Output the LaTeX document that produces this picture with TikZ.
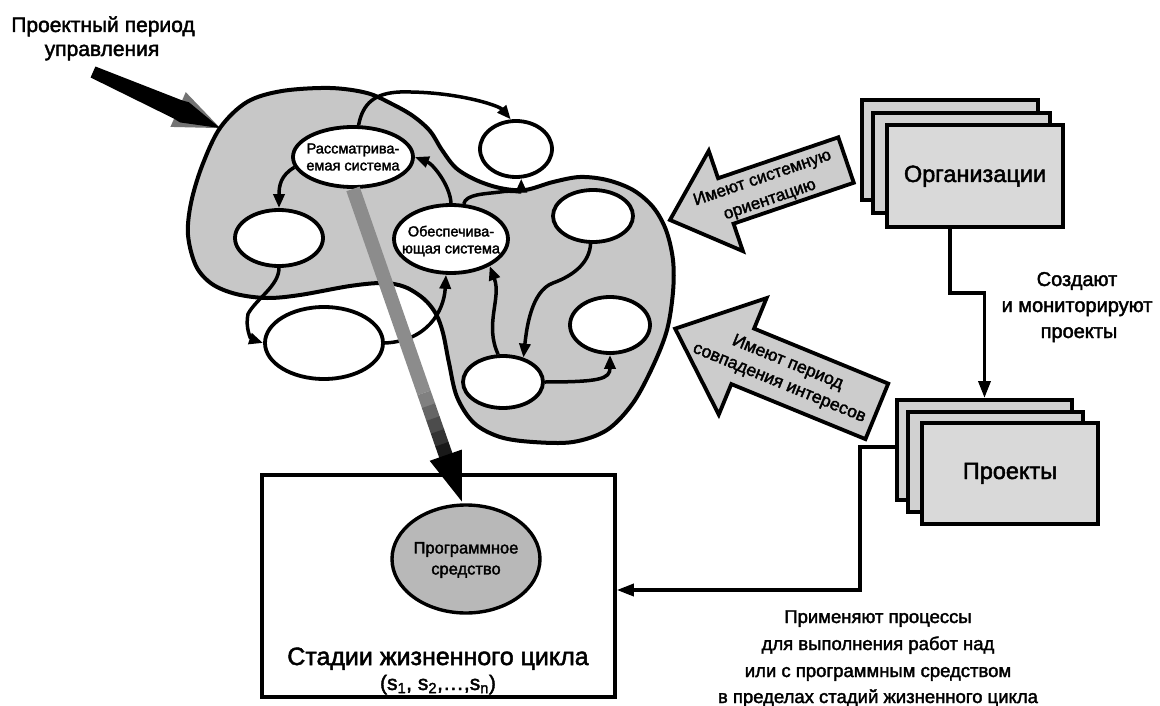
\documentclass[tikz,border=0pt]{standalone}
\usepackage{fontspec}
\setmainfont{Liberation Sans}[FakeBold=2]
\usetikzlibrary{arrows.meta,calc,shapes.geometric}
\begin{document}
\begin{tikzpicture}[x=1pt,y=-1pt,
  conn/.style={line width=3.5pt,-{Triangle[length=14pt,width=11pt]}},
  bigconn/.style={line width=3.5pt,-{Triangle[length=17pt,width=12pt]}},
  oval/.style={ellipse,draw,line width=3.8pt,fill=white,inner sep=0pt},
  small/.style={font=\fontsize{14.5}{17}\selectfont,align=center,inner sep=0pt},
  stackbox/.style={rectangle,draw,line width=4pt,fill=black!18,inner sep=0pt},
  blk/.style={draw,line width=3.8pt,fill=black!20,line join=miter},
  big/.style={font=\fontsize{23.5}{28}\selectfont,inner sep=0pt,anchor=base},
  side/.style={font=\fontsize{20}{24}\selectfont,inner sep=0pt,anchor=base},
  note/.style={font=\fontsize{18.5}{22}\selectfont,inner sep=0pt,anchor=base},
  head/.style={font=\fontsize{21}{24}\selectfont,inner sep=0pt,anchor=base},
  arr/.style={font=\fontsize{17}{23}\selectfont,align=center,inner sep=0pt},
  stage/.style={font=\fontsize{25}{28}\selectfont,inner sep=0pt,anchor=base},
]
\useasboundingbox (0,0) rectangle (1160,706);

% ---------- title and black arrow ----------
\node[head] (t1) at (103,32) {Проектный период};
\node[head] (t2) at (102,56) {управления};
\begin{scope}[shift={(93,72)},rotate=-23.8]
  \fill[black!55] (93,-19) -- (139,0) -- (93,19) -- cycle;
  \fill[black] (0,-6) -- (93,-10) -- (100,-11) -- (139,0) -- (100,11) -- (93,10) -- (0,6) -- cycle;
\end{scope}

% ---------- blob ----------
\filldraw[fill=black!22,line width=4pt] plot[smooth cycle,tension=0.55] coordinates {
(220,128) (247,102) (282,91) (330,88) (367,93) (392,104) (413,116) (430,131)
(442,150) (456,168) (476,180) (500,188) (525,190) (553,182) (580,177) (607,180)
(633,190) (653,207) (666,230) (673,260) (673,292) (667,330) (653,366) (633,403)
(607,430) (573,442) (533,442) (500,437) (474,423) (457,397) (449,363) (443,333)
(436,314) (424,299) (405,287) (383,283) (350,286) (300,295) (267,298) (236,294)
(212,284) (196,266) (188,235) (191,203) (202,166)};

% ---------- ellipses ----------
\node[oval,minimum width=120pt,minimum height=60pt] (A) at (353,157) {};
\node[oval,minimum width=72pt,minimum height=56pt] (B) at (516,149) {};
\node[oval,minimum width=88pt,minimum height=56pt] (C) at (279,238) {};
\node[oval,minimum width=114pt,minimum height=68pt] (D) at (451,239) {};
\node[oval,minimum width=118pt,minimum height=72pt] (E) at (324,343) {};
\node[oval,minimum width=80pt,minimum height=52pt] (F) at (593,216) {};
\node[oval,minimum width=80pt,minimum height=56pt] (G) at (610,325) {};
\node[oval,minimum width=80pt,minimum height=52pt] (H) at (503,382) {};
\node[small] (At) at (353,157) {Рассматрива-\\емая система};
\node[small] (Dt) at (451,241) {Обеспечива-\\ющая система};

% ---------- connectors inside the blob ----------
\coordinate (w1) at (400,92);
\coordinate (w2) at (500,192);
\coordinate (w3) at (248,314);
\coordinate (w4) at (553,283);
\draw[conn] (A.80) .. controls +(4,-22) and +(-25,1) .. (w1) .. controls +(55,-1) and +(-12,-14) .. (B.100);
\draw[conn] (D.70) .. controls +(2,-10) and +(-15,2) .. (w2) .. controls +(12,-2) and +(0,14) .. (B.-80);
\draw[conn] (A.190) .. controls +(-14,8) and +(0,-22) .. (C.north);
\draw[conn] (C.south) .. controls +(0,18) and +(8,-15) .. (w3) .. controls +(-3,14) and +(-12,-4) .. (E.180);
\draw[conn] (E.east) .. controls +(42,-2) and +(-2,37) .. (D.262);
\draw[conn] (D.north) .. controls +(-1,-18) and +(18,7) .. (A.east);
\draw[conn] (F.265) .. controls +(-1,18) and +(22,-8) .. (w4) .. controls +(-22,8) and +(3,-28) .. (H.50);
\draw[conn] (H.east) .. controls +(55,0) and +(0,24) .. (G.south);
\draw[conn] (H.100) .. controls +(-14,-30) and +(12,32) .. (D.-35);

% ---------- bottom box ----------
\node[draw,line width=3.6pt,minimum width=353pt,minimum height=222pt,inner sep=0pt] (box) at (438.5,586) {};
\node[ellipse,draw,line width=3.4pt,fill=black!28,minimum width=148pt,minimum height=108pt,inner sep=0pt] (prog) at (466,559) {};
\node[font=\fontsize{16.5}{21}\selectfont,align=center,inner sep=0pt] (progt) at (466,560) {Программное\\средство};
\node[stage] (s1) at (438,665) {Стадии жизненного цикла};
\node[stage,font=\fontsize{21}{24}\selectfont] (s2) at (438,690) {(s\textsubscript{1}, s\textsubscript{2},…,s\textsubscript{n})};

% ---------- gray band arrow ----------
\begin{scope}[shift={(A.south)},rotate=-70.8]
  \fill[black!45] (0,-7) rectangle (216,7);
  \foreach \i/\c in {0/50,1/60,2/70,3/80,4/90}{
    \fill[black!\c] ({216+\i*13.6},-7) rectangle ({216+(\i+1)*13.6+0.5},7);
  }
  \fill[black] (282,-17) -- (331,0) -- (282,17) -- cycle;
\end{scope}

% ---------- block arrows ----------
\begin{scope}[shift={(758,190)},rotate=18.8]
  \draw[blk] (-93,0) -- (-34,-53) -- (-34,-24) -- (93,-24) -- (93,24) -- (-34,24) -- (-34,53) -- cycle;
  \node[arr,rotate=18.8] (a1) at (8,2) {Имеют системную\\ориентацию};
\end{scope}
\begin{scope}[shift={(776,370)},rotate=-22.3]
  \draw[blk] (-109,0) -- (-36,-63) -- (-36,-30) -- (109,-30) -- (109,30) -- (-36,30) -- (-36,63) -- cycle;
  \node[arr,rotate=-22.3,font=\fontsize{17.5}{22}\selectfont] (a2) at (8,0) {Имеют период\\совпадения интересов};
\end{scope}

% ---------- organisations ----------
\node[stackbox,minimum width=176pt,minimum height=100pt] (orgA) at (950,150) {};
\node[stackbox,minimum width=177pt,minimum height=100pt] (orgB) at (961.5,163) {};
\node[stackbox,fill=black!15,minimum width=176pt,minimum height=102pt] (orgC) at (975,176) {};
\node[big] (orgt) at (975,182) {Организации};

% ---------- projects ----------
\node[stackbox,minimum width=175pt,minimum height=100pt] (projA) at (984.5,450) {};
\node[stackbox,minimum width=175pt,minimum height=100pt] (projB) at (995.5,462) {};
\node[stackbox,fill=black!15,minimum width=176pt,minimum height=101pt] (projC) at (1010,473.5) {};
\node[big] (projt) at (1010,479) {Проекты};

% ---------- org / project connectors ----------
\draw[bigconn] (orgA.center |- orgC.south) -- ++(0,64) -| (projA.north);
\draw[bigconn] ([yshift=3pt]projA.west) -- ++(-35,0) |- ([yshift=-4pt]box.east);

\node[side] (c1) at (1077,286) {Создают};
\node[side] (c2) at (1077,312) {и мониторируют};
\node[side] (c3) at (1079,338) {проекты};

\node[note] (p1) at (878,623) {Применяют процессы};
\node[note] (p2) at (878,650) {для выполнения работ над};
\node[note] (p3) at (878,677) {или с программным средством};
\node[note] (p4) at (878,703) {в пределах стадий жизненного цикла};
\end{tikzpicture}
\end{document}
